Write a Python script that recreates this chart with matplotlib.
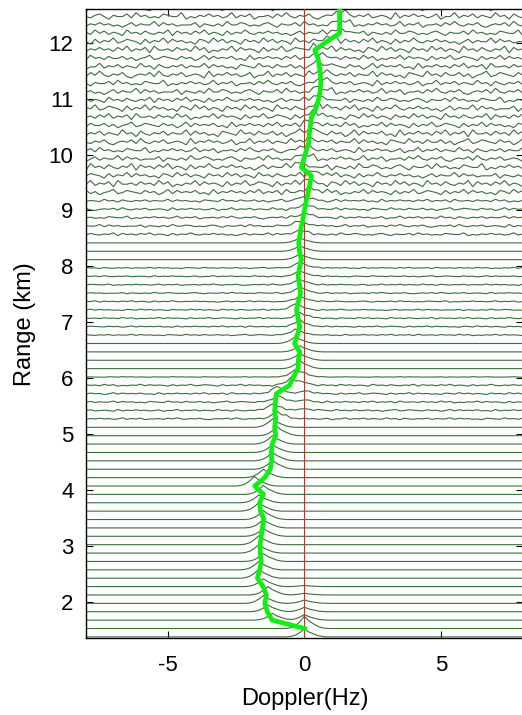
import numpy as np
import matplotlib.pyplot as plt

plt.rcParams['font.family'] = ['Liberation Sans', 'DejaVu Sans']
plt.rcParams['axes.unicode_minus'] = False

# Doppler bins (Hz) and range gates (km)
doppler = np.linspace(-8, 8, 97)
gate_range = np.round(1.37 + 0.15 * np.arange(76), 2)

# mean Doppler shift per gate (Hz), first gate has no estimate
mean_doppler = [np.nan, 0.01, -1.18, -1.36, -1.45, -1.39, -1.51, -1.72, -1.64, -1.58,
                -1.62, -1.62, -1.58, -1.54, -1.48, -1.61, -1.64, -1.50, -1.82, -1.45,
                -1.25, -1.20, -1.21, -1.18, -1.05, -1.09, -1.05, -1.09, -1.06, -1.03,
                -0.55, -0.40, -0.23, -0.22, -0.17, -0.36, -0.26, -0.17, -0.23, -0.29,
                -0.22, -0.14, -0.18, -0.23, -0.18, -0.11, -0.18, -0.21, -0.16, -0.11,
                -0.04, 0.01, 0.07, 0.14, 0.20, 0.26, -0.11, -0.02, 0.07, 0.16,
                0.18, 0.22, 0.26, 0.42, 0.51, 0.57, 0.60, 0.59, 0.55, 0.50,
                0.38, 0.81, 1.29, 1.29, 1.29, 1.29]

# normalised echo peak height per gate (km of offset on the plot)
peak_height = [0.00, 0.10, 0.12, 0.12, 0.14, 0.15, 0.14, 0.16, 0.15, 0.14,
               0.15, 0.16, 0.14, 0.15, 0.16, 0.15, 0.14, 0.16, 0.17, 0.15,
               0.16, 0.15, 0.14, 0.15, 0.16, 0.15, 0.14, 0.12, 0.12, 0.13,
               0.12, 0.13, 0.14, 0.12, 0.11, 0.12, 0.11, 0.12, 0.10, 0.11,
               0.10, 0.11, 0.10, 0.10, 0.11, 0.10, 0.10, 0.09, 0.09, 0.10,
               0.09, 0.10, 0.08, 0.08, 0.08, 0.08, 0.08, 0.08, 0.08, 0.08,
               0.08, 0.08, 0.08, 0.08, 0.08, 0.08, 0.08, 0.08, 0.08, 0.08,
               0.08, 0.08, 0.08, 0.08, 0.08, 0.08]

# ground clutter at zero Doppler
clutter_height = [0.14, 0.12, 0.10, 0.08, 0.06, 0.03, 0.02, 0.00, 0.00, 0.00,
                  0.00, 0.00, 0.00, 0.00, 0.00, 0.00, 0.00, 0.00, 0.00, 0.00,
                  0.00, 0.00, 0.00, 0.00, 0.00, 0.00, 0.00, 0.04, 0.04, 0.05,
                  0.04, 0.03, 0.00, 0.00, 0.00, 0.00, 0.00, 0.00, 0.00, 0.00,
                  0.00, 0.00, 0.00, 0.00, 0.00, 0.00, 0.00, 0.00, 0.00, 0.00,
                  0.00, 0.00, 0.00, 0.00, 0.00, 0.00, 0.00, 0.00, 0.00, 0.00,
                  0.00, 0.00, 0.00, 0.00, 0.00, 0.00, 0.00, 0.00, 0.00, 0.00,
                  0.00, 0.00, 0.00, 0.00, 0.00, 0.00]

# noise floor level per gate
noise_level = [0.00] * 26 + [0.06] * 5 + [0.02] + [0.00] * 4 + [0.045] * 7 \
    + [0.04] * 2 + [0.00] * 3 + [0.09] * 5 \
    + [0.17, 0.20, 0.18, 0.21, 0.19, 0.17, 0.20, 0.22, 0.18, 0.19, 0.21, 0.17,
       0.20, 0.18, 0.22, 0.19, 0.17, 0.21, 0.20, 0.18, 0.19, 0.21, 0.20]

noise_texture = ("3243534231352433625342333514324263354232453143352634232543361324353423624351334253632435213435263243"
                 "5234316243534235133624352432634153243524336253423154326342533524134623543253413625343523162435342536"
                 "2435163342534263513243625343152436235431524362534231542635243153426352431634253243615342536243152436")
peak_shape = [0.06, 0.22, 0.55, 1.00, 0.62, 0.38, 0.16, 0.05]

tex = np.array([int(c) for c in noise_texture], dtype=float) / 9.0
tex -= np.median(tex)
shape = np.array(peak_shape)


def add_peak(spec, centre, height):
    k = int(np.argmin(np.abs(doppler - centre)))
    for j, v in enumerate(shape):
        m = k - 3 + j
        if 0 <= m < len(spec):
            spec[m] += height * v


fig = plt.figure(figsize=(5.22, 7.15), dpi=100)
ax = fig.add_axes([86 / 522, 1 - 638 / 715, 436.8 / 522, 628.7 / 715])

for i, r in enumerate(gate_range):
    idx = (np.arange(len(doppler)) + 37 * i) % len(tex)
    spec = noise_level[i] * tex[idx]
    if not np.isnan(mean_doppler[i]):
        add_peak(spec, mean_doppler[i], peak_height[i])
    if clutter_height[i] > 0:
        add_peak(spec, 0.0, clutter_height[i])
    ax.plot(doppler, r + spec, color='#3a6f3a', lw=0.8, zorder=2)

ax.axvline(0, color='#e82020', lw=0.8, zorder=3)
ax.plot(mean_doppler, gate_range, color='#11ee11', lw=3.4, zorder=4,
        solid_joinstyle='round')

ax.set_xlim(-8, 8)
ax.set_ylim(1.35, 12.6)
ax.set_xticks([-5, 0, 5])
ax.set_yticks(range(2, 13))
ax.tick_params(direction='in', top=True, right=True, length=5, width=0.8,
               labelsize=16, pad=9)
ax.tick_params(axis='x', pad=12)
for s in ax.spines.values():
    s.set_linewidth(1.0)
ax.set_xlabel('Doppler(Hz)', fontsize=17, labelpad=9)
ax.set_ylabel('Range (km)', fontsize=17, labelpad=9)

fig.savefig('out.png', dpi=100)
